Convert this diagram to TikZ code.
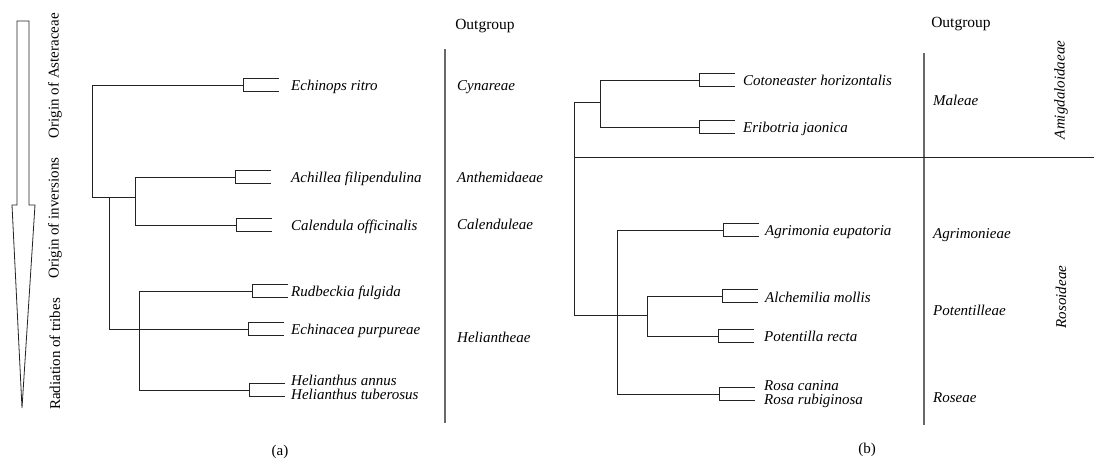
\documentclass[tikz,border=0pt]{standalone}
\usepackage{fontspec}
\setmainfont{Liberation Serif}
\usetikzlibrary{positioning,calc}
\definecolor{treedark}{RGB}{35,35,35}
\definecolor{sepgray}{RGB}{105,105,105}
\tikzset{
  treeline/.style={line width=0.9pt,color=treedark},
  sepline/.style={line width=1.8pt,color=sepgray},
  arrowoutline/.style={line width=0.8pt,draw=treedark,fill=white,line join=miter},
  taxonlabel/.style={anchor=base west,inner sep=0pt,
    font=\fontsize{15}{18}\selectfont\itshape},
  tribelabel/.style={anchor=base west,inner sep=0pt,
    font=\fontsize{15}{18}\selectfont\itshape},
  outlabel/.style={inner sep=0pt,font=\fontsize{15.5}{18}\selectfont},
  cladelabel/.style={rotate=90,inner sep=0pt,
    font=\fontsize{15}{18}\selectfont\itshape},
  phaselabel/.style={rotate=90,inner sep=0pt,
    font=\fontsize{15}{18}\selectfont},
  panellabel/.style={inner sep=0pt,font=\fontsize{15}{18}\selectfont},
  leafbracket/.pic={\draw[treeline] (36,-7) -- (0,-7) -- (0,6) -- (36,6);},
}

\begin{document}
\begin{tikzpicture}[x=1pt,y=-1pt]
\useasboundingbox (0,0) rectangle (1094,461);

%% ── time arrow ───────────────────────────────────────────────────────────
\draw[arrowoutline] (17,21) -- (29,21) -- (29,205) -- (35,205) -- (22,408)
  -- (12,205) -- (17,205) -- cycle;
\node[phaselabel,anchor=west] (radiation) at (55,410) {Radiation of tribes};
\node[phaselabel,anchor=east] (asteraceae) at (55,13) {Origin of Asteraceae};
\node[phaselabel] (inversions) at (55,218) {Origin of inversions};

%% ── (a) leaves ───────────────────────────────────────────────────────────
\coordinate (echinops)   at (243,85);
\coordinate (achillea)   at (235,177);
\coordinate (calendula)  at (236,225);
\coordinate (rudbeckia)  at (252,291);
\coordinate (echinacea)  at (248,329);
\coordinate (helianthus) at (249,390);
\pic at (echinops)   {leafbracket};
\pic at (achillea)   {leafbracket};
\pic at (calendula)  {leafbracket};
\pic at (rudbeckia)  {leafbracket};
\pic at (echinacea)  {leafbracket};
\pic at (helianthus) {leafbracket};
\node[taxonlabel] (echinops-l)  at (291,90.5)  {Echinops ritro};
\node[taxonlabel] (achillea-l)  at (291,182.5) {Achillea filipendulina};
\node[taxonlabel] (calendula-l) at (291,230.5) {Calendula officinalis};
\node[taxonlabel] (rudbeckia-l) at (291,296.5) {Rudbeckia fulgida};
\node[taxonlabel] (echinacea-l) at (291,334.5) {Echinacea purpureae};
\node[taxonlabel] (annus-l)     at (291,385.5) {Helianthus annus};
\node[taxonlabel] (tuberosus-l) at (291,399)   {Helianthus tuberosus};

%% ── (a) tree ─────────────────────────────────────────────────────────────
\coordinate (aroot) at (92,197);
\coordinate (ahel)  at (109,197);
\coordinate (acal)  at (135,197);
\coordinate (ahelx) at (139,329);
\draw[treeline] (aroot) |- (echinops);
\draw[treeline] (aroot) -- (acal);
\draw[treeline] (acal) |- (achillea);
\draw[treeline] (acal) |- (calendula);
\draw[treeline] (ahel) |- (echinacea);
\draw[treeline] (ahelx) |- (rudbeckia);
\draw[treeline] (ahelx) |- (helianthus);

%% ── (a) tribes ───────────────────────────────────────────────────────────
\coordinate (asep-top) at (445,49);
\coordinate (asep-bot) at (445,423);
\draw[sepline] (asep-top) -- (asep-bot);
\node[outlabel] (aout) at (485,26) {Outgroup};
\node[tribelabel] (cynareae)     at (457,90)  {Cynareae};
\node[tribelabel] (anthemidaeae) at (457,182) {Anthemidaeae};
\node[tribelabel] (calenduleae)  at (457,229) {Calenduleae};
\node[tribelabel] (heliantheae)  at (457,342) {Heliantheae};
\node[panellabel] (panel-a) at (280,452) {(a)};

%% ── (b) leaves ───────────────────────────────────────────────────────────
\coordinate (cotoneaster) at (699,80);
\coordinate (eribotria)   at (699,127);
\coordinate (agrimonia)   at (723,230);
\coordinate (alchemilia)  at (722,296);
\coordinate (potentilla)  at (718,336);
\coordinate (rosa)        at (719,394);
\pic at (cotoneaster) {leafbracket};
\pic at (eribotria)   {leafbracket};
\pic at (agrimonia)   {leafbracket};
\pic at (alchemilia)  {leafbracket};
\pic at (potentilla)  {leafbracket};
\pic at (rosa)        {leafbracket};
\node[taxonlabel] (cotoneaster-l) at (743,85.5)  {Cotoneaster horizontalis};
\node[taxonlabel] (eribotria-l)   at (743,132.5) {Eribotria jaonica};
\node[taxonlabel] (agrimonia-l)   at (765,235.5) {Agrimonia eupatoria};
\node[taxonlabel] (alchemilia-l)  at (765,302)   {Alchemilia mollis};
\node[taxonlabel] (potentilla-l)  at (764,341.5) {Potentilla recta};
\node[taxonlabel] (canina-l)      at (764,390.5) {Rosa canina};
\node[taxonlabel] (rubiginosa-l)  at (764,404)   {Rosa rubiginosa};

%% ── (b) tree ─────────────────────────────────────────────────────────────
\coordinate (bmal)  at (600,102);
\coordinate (broot) at (574,315);
\coordinate (bros)  at (617,315);
\coordinate (bpot)  at (647,315);
\draw[treeline] (bmal) |- (cotoneaster);
\draw[treeline] (bmal) |- (eribotria);
\draw[treeline] (bmal) -| (broot) -- (bros);
\draw[treeline] (bros) |- (agrimonia);
\draw[treeline] (bros) |- (rosa);
\draw[treeline] (bros) -- (bpot);
\draw[treeline] (bpot) |- (alchemilia);
\draw[treeline] (bpot) |- (potentilla);

%% ── (b) tribes and subfamilies ───────────────────────────────────────────
\coordinate (bsep-top) at (924,53);
\coordinate (bsep-bot) at (924,425);
\coordinate (bdiv-l) at (574,157);
\coordinate (bdiv-r) at (1094,157);
\draw[sepline] (bsep-top) -- (bsep-bot);
\draw[treeline] (bdiv-l) -- (bdiv-r);
\node[outlabel] (bout) at (961,24) {Outgroup};
\node[tribelabel] (maleae)       at (933,105) {Maleae};
\node[tribelabel] (agrimonieae)  at (933,238) {Agrimonieae};
\node[tribelabel] (potentilleae) at (933,315) {Potentilleae};
\node[tribelabel] (roseae)       at (933,402) {Roseae};
\node[cladelabel] (amigdaloidaeae) at (1061,90) {Amigdaloidaeae};
\node[cladelabel] (rosoideae)      at (1061,297) {Rosoideae};
\node[panellabel] (panel-b) at (867,450) {(b)};

\end{tikzpicture}
\end{document}
